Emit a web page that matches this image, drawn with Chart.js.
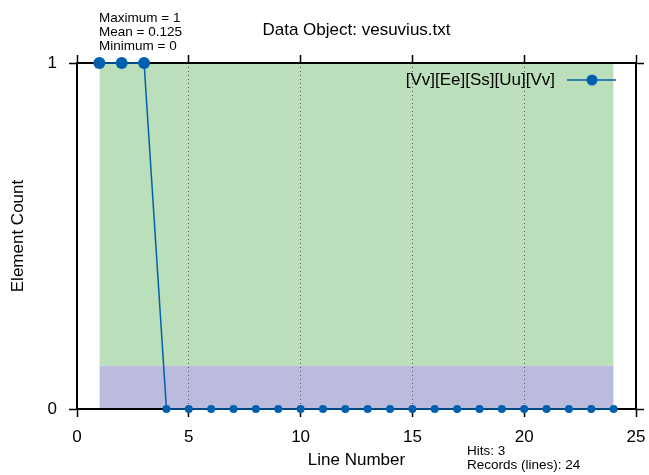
<!DOCTYPE html>
<html>
<head>
  <script src="https://cdn.jsdelivr.net/npm/chart.js@4"></script>
  <style>
    body { margin: 0; background: #fff; }
  </style>
</head>
<body>
  <canvas id="myChart" width="649" height="475"></canvas>
  <script>
    // data
    const lineNumbers = [1, 2, 3, 4, 5, 6, 7, 8, 9, 10, 11, 12, 13, 14, 15, 16, 17, 18, 19, 20, 21, 22, 23, 24];
    const elementCounts = [1, 1, 1, 0, 0, 0, 0, 0, 0, 0, 0, 0, 0, 0, 0, 0, 0, 0, 0, 0, 0, 0, 0, 0];
    const seriesLabel = '[Vv][Ee][Ss][Uu][Vv]';
    const statMax = 1;
    const statMean = 0.125;
    const statMin = 0;
    const xTicks = [0, 5, 10, 15, 20, 25];
    const yTicks = [0, 1];
    const titleText = 'Data Object: vesuvius.txt';
    const statLines = ['Maximum = 1', 'Mean = 0.125', 'Minimum = 0'];
    const footLines = ['Hits: 3', 'Records (lines): 24'];

    const blue = '#0060ad';
    const FONT = '"Liberation Sans", Arial, Helvetica, sans-serif';
    Chart.defaults.font.family = FONT;
    Chart.defaults.color = '#000';

    const first = lineNumbers[0];
    const last = lineNumbers[lineNumbers.length - 1];

    const setTicks = vals => scale => { scale.ticks = vals.map(v => ({ value: v })); };

    function frameAxis(position, axis, vals, size, labels) {
      const isX = axis === 'x';
      return {
        type: 'linear',
        axis,
        position,
        min: vals[0],
        max: vals[vals.length - 1],
        afterBuildTicks: setTicks(vals),
        afterFit: s => {
          if (isX) s.height = size; else s.width = size;
          s.paddingLeft = s.paddingRight = s.paddingTop = s.paddingBottom = 0;
        },
        grid: {
          drawOnChartArea: false,
          tickLength: 8,
          tickColor: '#000',
          tickWidth: 1.5,
        },
        border: { color: '#000', width: 2 },
        ticks: {
          display: labels,
          font: { size: 17 },
          padding: isX ? 10 : 12,
        },
      };
    }

    const scales = {
      x: frameAxis('bottom', 'x', xTicks, 66, true),
      x2: frameAxis('top', 'x', xTicks, 63, false),
      y: frameAxis('left', 'y', yTicks, 77, true),
      y2: frameAxis('right', 'y', yTicks, 13, false),
    };
    // dotted vertical grid on the bottom axis, skip the frame edges
    scales.x.grid.drawOnChartArea = true;
    scales.x.grid.lineWidth = 1;
    scales.x.grid.color = c => (c.tick && (c.tick.value === xTicks[0] || c.tick.value === xTicks[xTicks.length - 1])) ? 'rgba(0,0,0,0)' : '#555';
    scales.x.border.dash = [1, 3];
    scales.x.title = { display: true, text: 'Line Number', font: { size: 17 }, padding: 4 };
    scales.y.title = { display: true, text: 'Element Count', font: { size: 17 }, padding: { top: 8, bottom: 0 } };

    const decor = {
      id: 'decor',
      afterDraw(chart) {
        const ctx = chart.ctx;
        const a = chart.chartArea;
        ctx.save();
        ctx.fillStyle = '#000';
        ctx.textBaseline = 'middle';

        ctx.font = '17px ' + FONT;
        ctx.textAlign = 'center';
        ctx.fillText(titleText, (a.left + a.right) / 2, 30);

        ctx.font = '13.5px ' + FONT;
        ctx.textAlign = 'left';
        statLines.forEach((t, i) => ctx.fillText(t, 99, 18 + i * 14));
        footLines.forEach((t, i) => ctx.fillText(t, 467, 451 + i * 14));

        // legend: text then a sample line with its point
        const ly = 80;
        ctx.font = '17px ' + FONT;
        ctx.textAlign = 'right';
        ctx.fillText(seriesLabel, 555, ly);
        ctx.strokeStyle = blue;
        ctx.lineWidth = 1.5;
        ctx.beginPath();
        ctx.moveTo(567, ly);
        ctx.lineTo(616, ly);
        ctx.stroke();
        ctx.fillStyle = blue;
        ctx.beginPath();
        ctx.arc(592, ly, 5.5, 0, Math.PI * 2);
        ctx.fill();
        ctx.restore();
      },
    };

    new Chart(document.getElementById('myChart'), {
      type: 'line',
      data: {
        datasets: [
          {
            label: 'mean band',
            data: [{ x: first, y: statMean }, { x: last, y: statMean }],
            backgroundColor: '#bbbbde',
            borderWidth: 0,
            pointRadius: 0,
            fill: { value: statMin },
          },
          {
            label: 'max band',
            data: [{ x: first, y: statMax }, { x: last, y: statMax }],
            backgroundColor: '#bbdebb',
            borderWidth: 0,
            pointRadius: 0,
            fill: { value: statMean },
          },
          {
            label: seriesLabel,
            data: lineNumbers.map((x, i) => ({ x, y: elementCounts[i] })),
            borderColor: blue,
            backgroundColor: blue,
            borderWidth: 1.5,
            pointRadius: c => (c.raw && c.raw.y === statMax ? 6 : 4),
            pointBorderWidth: 0,
            fill: false,
            clip: false,
          },
        ],
      },
      options: {
        responsive: false,
        animation: false,
        layout: { padding: 0 },
        scales,
        plugins: {
          legend: { display: false },
          title: { display: false },
          tooltip: { enabled: false },
          filler: { drawTime: 'beforeDraw' },
        },
      },
      plugins: [decor],
    });
  </script>
</body>
</html>
